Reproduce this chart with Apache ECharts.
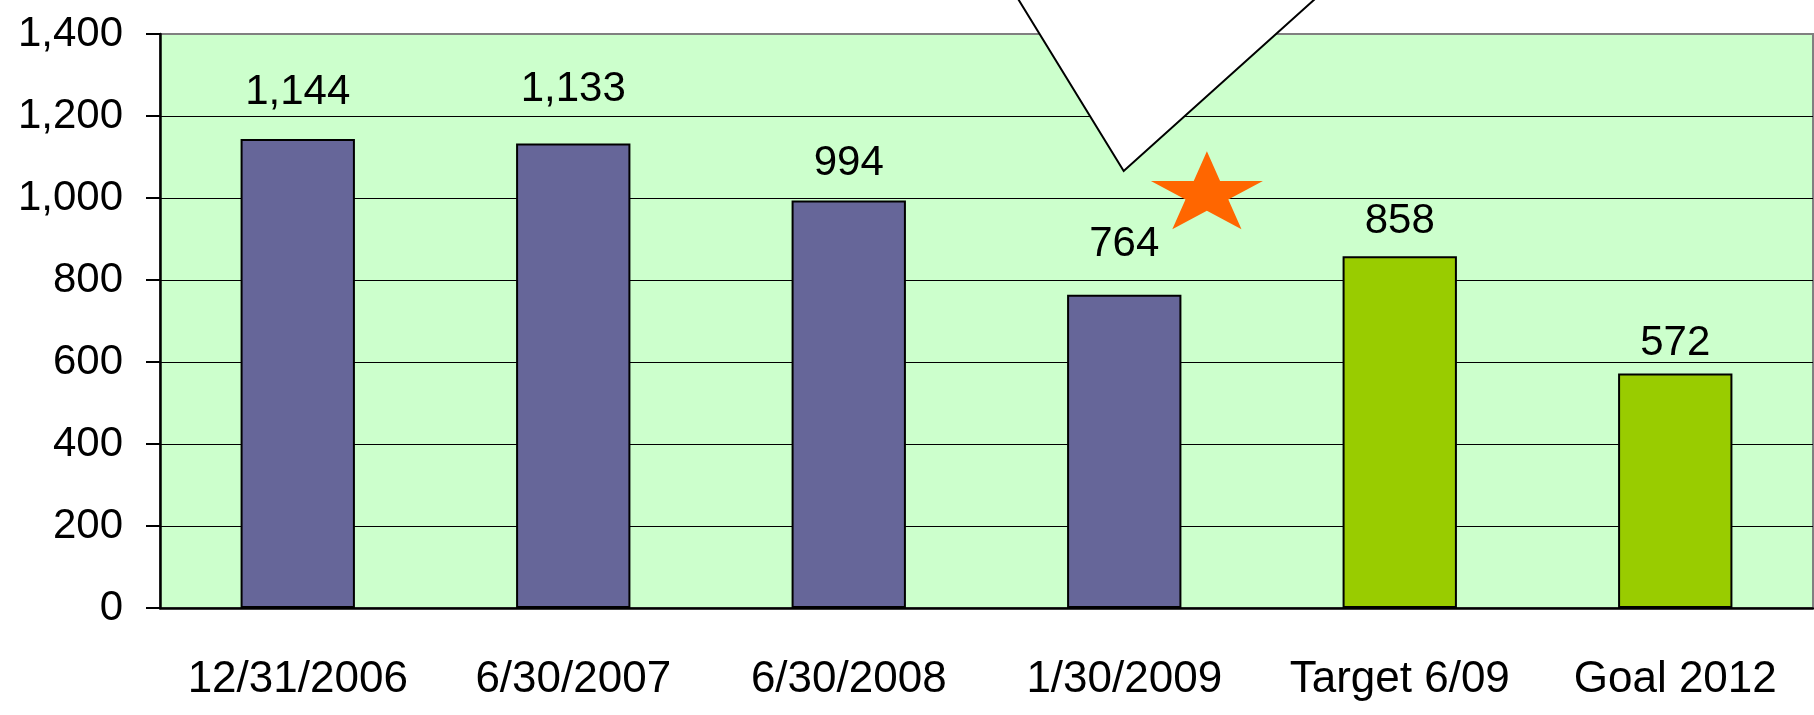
<!DOCTYPE html>
<html>
<head>
<meta charset="utf-8">
<script src="https://cdn.jsdelivr.net/npm/echarts@6/dist/echarts.min.js"></script>
<style>
  html, body { margin: 0; padding: 0; background: #fff; }
  #chart { width: 1814px; height: 715px; }
</style>
</head>
<body>
<div id="chart"></div>
<script>
// categories along the x axis
const categories = ['12/31/2006', '6/30/2007', '6/30/2008', '1/30/2009', 'Target 6/09', 'Goal 2012'];
// measured counts (purple) and targets (green)
const actualValues = [1144, 1133, 994, 764, '-', '-'];
const targetValues = ['-', '-', '-', '-', 858, 572];
// y ticks
const yMin = 0, yMax = 1400, yStep = 200;

// annotation: star and callout pointer, in (category units, value) space
const starPos = [3.8, 1019];
const calloutPts = [[3.01, 1600], [3.498, 1066], [4.382, 1600]];

// label gap above each bar (the original labels sit unevenly)
const labelGap = [26, 33, 16, 29, 14, 9];

const font = "'Liberation Sans', Arial, sans-serif";

const myChart = echarts.init(document.getElementById('chart'));

const mkData = (arr) => arr.map((v, i) => v === '-' ? '-' : { value: v, label: { distance: labelGap[i] } });

const option = {
  animation: false,
  backgroundColor: '#fff',
  textStyle: { fontFamily: font },
  grid: {
    left: 160, right: 1, top: 34, bottom: 107,
    show: true,
    backgroundColor: '#CCFFCC',
    borderColor: '#808080',
    borderWidth: 2
  },
  xAxis: [
    {
      type: 'category',
      data: categories,
      axisLine: { lineStyle: { color: '#000', width: 2.5 } },
      axisTick: { length: 17, lineStyle: { color: '#000', width: 2 } },
      axisLabel: { interval: 0, fontSize: 44, color: '#000', margin: 50, fontFamily: font }
    },
    {
      // hidden axis for the annotations
      type: 'value', min: 0, max: 6, show: false
    }
  ],
  yAxis: {
    type: 'value',
    min: yMin, max: yMax, interval: yStep,
    axisLine: { show: true, lineStyle: { color: '#000', width: 2.5 } },
    axisTick: { show: true, length: 14, lineStyle: { color: '#000', width: 2 } },
    axisLabel: {
      fontSize: 42, color: '#000', margin: 37, fontFamily: font,
      formatter: v => v.toLocaleString('en-US')
    },
    splitLine: { show: true, showMaxLine: false, lineStyle: { color: '#000', width: 1.2 } }
  },
  series: [
    {
      type: 'bar',
      data: mkData(actualValues),
      barWidth: '41.5%',
      barGap: '-100%',
      itemStyle: { color: '#666699', borderColor: '#000', borderWidth: 2 },
      label: {
        show: true, position: 'top', fontSize: 42, color: '#000', fontFamily: font,
        formatter: p => p.value.toLocaleString('en-US')
      }
    },
    {
      type: 'bar',
      data: mkData(targetValues),
      barWidth: '41.5%',
      barGap: '-100%',
      itemStyle: { color: '#99CC00', borderColor: '#000', borderWidth: 2 },
      label: {
        show: true, position: 'top', fontSize: 42, color: '#000', fontFamily: font,
        formatter: p => p.value.toLocaleString('en-US')
      }
    },
    {
      // callout pointer
      type: 'custom',
      xAxisIndex: 1,
      clip: false,
      silent: true,
      z: 5,
      data: [0],
      renderItem: (params, api) => ({
        type: 'polygon',
        shape: { points: calloutPts.map(p => api.coord(p)) },
        style: { fill: '#fff', stroke: '#000', lineWidth: 2 }
      })
    },
    {
      // orange star
      type: 'scatter',
      xAxisIndex: 1,
      silent: true,
      z: 6,
      symbol: 'path://M50,0 L61.2,34.5 L97.6,34.5 L68.2,55.9 L79.4,90.5 L50,69.1 L20.6,90.5 L31.8,55.9 L2.4,34.5 L38.8,34.5 Z',
      symbolSize: [112, 78],
      itemStyle: { color: '#FF6600', opacity: 1 },
      data: [starPos]
    }
  ]
};

myChart.setOption(option);
window.addEventListener('resize', () => { myChart.resize(); });
</script>
</body>
</html>
